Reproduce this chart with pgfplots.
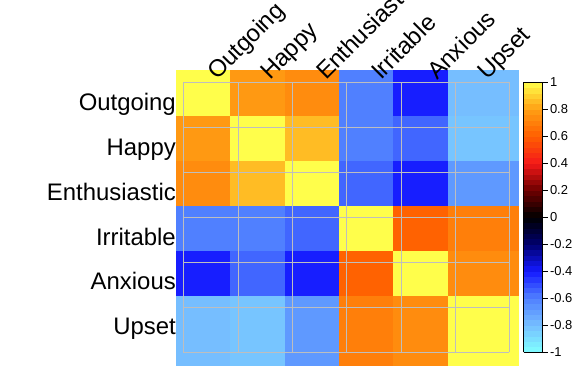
\documentclass[border=0pt]{standalone}
\usepackage{pgfplots}
\pgfplotsset{compat=1.18}
\usepackage{fontspec}
\setmainfont{Liberation Sans}
\definecolor{gridgray}{RGB}{190,190,190}
\tikzset{
  rowlab/.style={anchor=base east, inner sep=0pt, font=\fontsize{24}{24}\selectfont},
  collab/.style={anchor=base west, inner sep=0pt, rotate=45, font=\fontsize{24}{24}\selectfont},
  gl/.style={gridgray, line width=1bp},
}
\begin{document}
\begin{tikzpicture}
\useasboundingbox (0,0) rectangle (586bp,381bp);
\clip (0,0) rectangle (586bp,381bp);
\begin{axis}[
  at={(0,0)}, anchor=south west,
  scale only axis, width=586bp, height=381bp,
  xmin=0, xmax=586, ymin=0, ymax=381, zmin=-1, zmax=1,
  view={0}{90}, hide axis, clip=false,
  colormap={corr}{rgb255(0cm)=(128,255,255); rgb255(1cm)=(118,190,255); rgb255(2cm)=(80,128,255); rgb255(3cm)=(20,25,255); rgb255(4cm)=(0,0,110); rgb255(5cm)=(0,0,0); rgb255(6cm)=(110,0,0); rgb255(7cm)=(245,25,25); rgb255(8cm)=(255,95,0); rgb255(9cm)=(255,160,20); rgb255(10cm)=(255,255,75)},
  point meta min=-1, point meta max=1,
  colorbar sampled,
  colorbar style={
    samples=51, scale only axis,
    at={(parent axis.north west)}, anchor=north west,
    xshift=515bp, yshift=-82bp, width=19bp, height=270bp,
    ytick={-1,-0.8,-0.6,-0.4,-0.2,0,0.2,0.4,0.6,0.8,1},
    yticklabels={-1,-0.8,-0.6,-0.4,-0.2,0,0.2,0.4,0.6,0.8,1},
    ytick pos=right, yticklabel pos=right, tick align=outside,
    major tick length=5bp,
    tick style={black, line width=0.8pt},
    axis line style={black, line width=0.8pt},
    yticklabel style={font=\fontsize{13}{13}\selectfont, xshift=-1bp},
  },
]
\addplot3[surf, shader=flat corner, mesh/rows=7, mesh/cols=7, point meta=explicit]
table[x=x, y=y, z=z, meta=c] {
x y z c
176 16 0 -0.80
230 16 0 -0.82
285 16 0 -0.68
339 16 0 0.70
393 16 0 0.74
448 16 0 1
518 16 0 0
176 86 0 -0.41
230 86 0 -0.55
285 86 0 -0.41
339 86 0 0.61
393 86 0 1
448 86 0 0.74
518 86 0 0
176 131 0 -0.60
230 131 0 -0.60
285 131 0 -0.55
339 131 0 1
393 131 0 0.61
448 131 0 0.70
518 131 0 0
176 176 0 0.74
230 176 0 0.86
285 176 0 1
339 176 0 -0.55
393 176 0 -0.41
448 176 0 -0.68
518 176 0 0
176 221 0 0.78
230 221 0 1
285 221 0 0.86
339 221 0 -0.60
393 221 0 -0.55
448 221 0 -0.82
518 221 0 0
176 266 0 1
230 266 0 0.78
285 266 0 0.74
339 266 0 -0.60
393 266 0 -0.41
448 266 0 -0.80
518 266 0 0
176 311 0 0
230 311 0 0
285 311 0 0
339 311 0 0
393 311 0 0
448 311 0 0
518 311 0 0
};
\draw[gl] (axis cs:183.3,298.7,0) -- (axis cs:509.3,298.7,0);
\draw[gl] (axis cs:183.3,253.7,0) -- (axis cs:509.3,253.7,0);
\draw[gl] (axis cs:183.3,208.7,0) -- (axis cs:509.3,208.7,0);
\draw[gl] (axis cs:183.3,163.7,0) -- (axis cs:509.3,163.7,0);
\draw[gl] (axis cs:183.3,118.7,0) -- (axis cs:509.3,118.7,0);
\draw[gl] (axis cs:183.3,73.7,0) -- (axis cs:509.3,73.7,0);
\draw[gl] (axis cs:183.3,28.7,0) -- (axis cs:509.3,28.7,0);
\draw[gl] (axis cs:183.3,28.7,0) -- (axis cs:183.3,298.7,0);
\draw[gl] (axis cs:238.3,28.7,0) -- (axis cs:238.3,298.7,0);
\draw[gl] (axis cs:292.3,28.7,0) -- (axis cs:292.3,298.7,0);
\draw[gl] (axis cs:346.3,28.7,0) -- (axis cs:346.3,298.7,0);
\draw[gl] (axis cs:401.7,28.7,0) -- (axis cs:401.7,298.7,0);
\draw[gl] (axis cs:455.7,28.7,0) -- (axis cs:455.7,298.7,0);
\draw[gl] (axis cs:509.3,28.7,0) -- (axis cs:509.3,298.7,0);
\node[rowlab] at (axis cs:176,270,0) {Outgoing};
\node[rowlab] at (axis cs:176,225,0) {Happy};
\node[rowlab] at (axis cs:176,180,0) {Enthusiastic};
\node[rowlab] at (axis cs:176,135,0) {Irritable};
\node[rowlab] at (axis cs:176,91,0) {Anxious};
\node[rowlab] at (axis cs:176,46,0) {Upset};
\node[collab] at (axis cs:217,300,0) {Outgoing};
\node[collab] at (axis cs:270,300,0) {Happy};
\node[collab] at (axis cs:326,300,0) {Enthusiastic};
\node[collab] at (axis cs:381,300,0) {Irritable};
\node[collab] at (axis cs:437,300,0) {Anxious};
\node[collab] at (axis cs:487,300,0) {Upset};
\end{axis}
\end{tikzpicture}
\end{document}
